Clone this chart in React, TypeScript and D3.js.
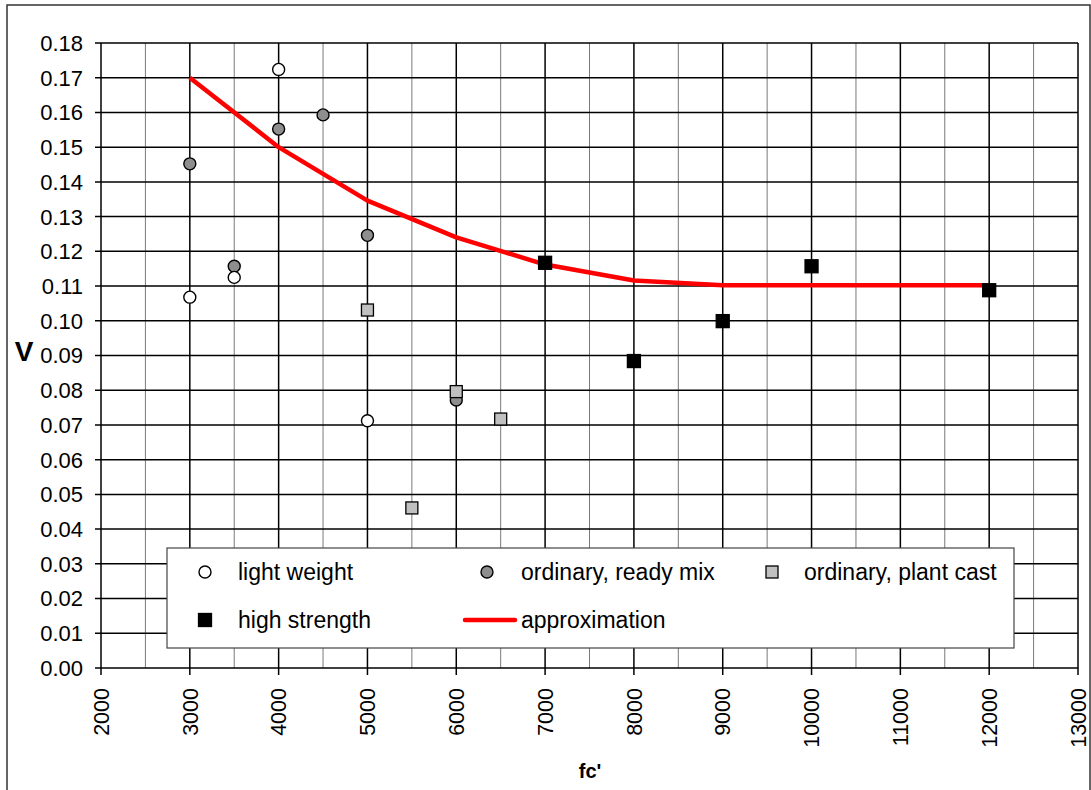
import React from "react";
import * as d3 from "d3";

const xTicks = [2000, 3000, 4000, 5000, 6000, 7000, 8000, 9000, 10000, 11000, 12000, 13000];
const xMinor = [2500, 3500, 4500, 5500, 6500, 7500, 8500, 9500, 10500, 11500, 12500];
const yTicks = d3.range(0, 19).map((i) => i / 100);

const lightX = [3000, 3500, 4000, 5000];
const lightV = [0.1068, 0.1125, 0.1724, 0.0712];
const readyX = [3000, 3500, 4000, 4500, 5000, 6000];
const readyV = [0.1452, 0.1157, 0.1552, 0.1593, 0.1246, 0.0772];
const plantX = [5000, 5500, 6000, 6500];
const plantV = [0.1031, 0.0461, 0.0796, 0.0717];
const highX = [7000, 8000, 9000, 10000, 12000];
const highV = [0.1167, 0.0884, 0.0999, 0.1157, 0.1088];
const approxX = [3000, 4000, 5000, 6000, 7000, 8000, 9000, 10000, 11000, 12000];
const approxV = [0.17, 0.15, 0.1346, 0.124, 0.1162, 0.1116, 0.1102, 0.1102, 0.1102, 0.1102];

const W = 1091;
const H = 790;
const FONT = "Liberation Sans, Arial, Helvetica, sans-serif";

export default function App() {
  const x = d3.scaleLinear().domain([2000, 13000]).range([101, 1078]);
  const y = d3.scaleLinear().domain([0, 0.18]).range([668, 43]);
  const line = d3
    .line<number>()
    .x((_, i) => x(approxX[i]))
    .y((d) => y(d));

  const circle = (cx: number, cy: number, fill: string, key: string) => (
    <circle key={key} cx={cx} cy={cy} r={6} fill={fill} stroke="#000" strokeWidth={1.4} />
  );
  const square = (cx: number, cy: number, fill: string, size: number, key: string) => (
    <rect key={key} x={cx - size / 2} y={cy - size / 2} width={size} height={size} fill={fill} stroke="#000" strokeWidth={1.3} />
  );

  const lx = 205;
  const row1 = 572;
  const row2 = 620;

  return (
    <svg width={W} height={H} style={{ position: "absolute", left: 0, top: 0 }} fontFamily={FONT}>
      <rect x={0} y={0} width={W} height={H} fill="#fff" />
      <rect x={7} y={5} width={1083} height={800} fill="none" stroke="#333" strokeWidth={1.5} />
      {xMinor.map((v) => (
        <line key={"mn" + v} x1={x(v)} x2={x(v)} y1={y(0.18)} y2={y(0)} stroke="#7a7a7a" strokeWidth={1} />
      ))}
      {xTicks.map((v) => (
        <line key={"mj" + v} x1={x(v)} x2={x(v)} y1={y(0.18)} y2={y(0) + 7} stroke="#000" strokeWidth={1.5} />
      ))}
      {yTicks.map((v) => (
        <line key={"h" + v} x1={x(2000) - 6} x2={x(13000)} y1={y(v)} y2={y(v)} stroke="#000" strokeWidth={1.5} />
      ))}
      {yTicks.map((v) => (
        <text key={"yl" + v} x={83} y={y(v)} dy="0.36em" textAnchor="end" fontSize={22} fill="#000">
          {v.toFixed(2)}
        </text>
      ))}
      {xTicks.map((v) => (
        <text
          key={"xl" + v}
          transform={`translate(${x(v)},688) rotate(-90)`}
          dy="0.36em"
          textAnchor="end"
          fontSize={21.5}
          fill="#000"
        >
          {v}
        </text>
      ))}
      <text x={24} y={361} textAnchor="middle" fontSize={28} fontWeight="bold">
        V
      </text>
      <text x={590} y={778} textAnchor="middle" fontSize={20} fontWeight="bold">
        fc'
      </text>

      <path d={line(approxV) || ""} fill="none" stroke="#ff0000" strokeWidth={4.5} strokeLinejoin="round" />
      {readyV.map((v, i) => circle(x(readyX[i]), y(v), "#8e8e8e", "r" + i))}
      {plantV.map((v, i) => square(x(plantX[i]), y(v), "#c0c0c0", 12, "p" + i))}
      {lightV.map((v, i) => circle(x(lightX[i]), y(v), "#fff", "l" + i))}
      {highV.map((v, i) => square(x(highX[i]), y(v), "#000", 13, "hs" + i))}

      <rect x={167} y={548} width={847} height={100} fill="#fff" stroke="#444" strokeWidth={1.2} />
      {circle(lx, row1, "#fff", "lg1")}
      <text x={238} y={row1} dy="0.36em" fontSize={23}>light weight</text>
      {circle(487, row1, "#8e8e8e", "lg2")}
      <text x={521} y={row1} dy="0.36em" fontSize={23}>ordinary, ready mix</text>
      {square(772, row1, "#c0c0c0", 12, "lg3")}
      <text x={804} y={row1} dy="0.36em" fontSize={23}>ordinary, plant cast</text>
      {square(lx, row2, "#000", 13, "lg4")}
      <text x={238} y={row2} dy="0.36em" fontSize={23}>high strength</text>
      <line x1={465} x2={515} y1={row2} y2={row2} stroke="#ff0000" strokeWidth={4.5} strokeLinecap="round" />
      <text x={521} y={row2} dy="0.36em" fontSize={23}>approximation</text>
    </svg>
  );
}
